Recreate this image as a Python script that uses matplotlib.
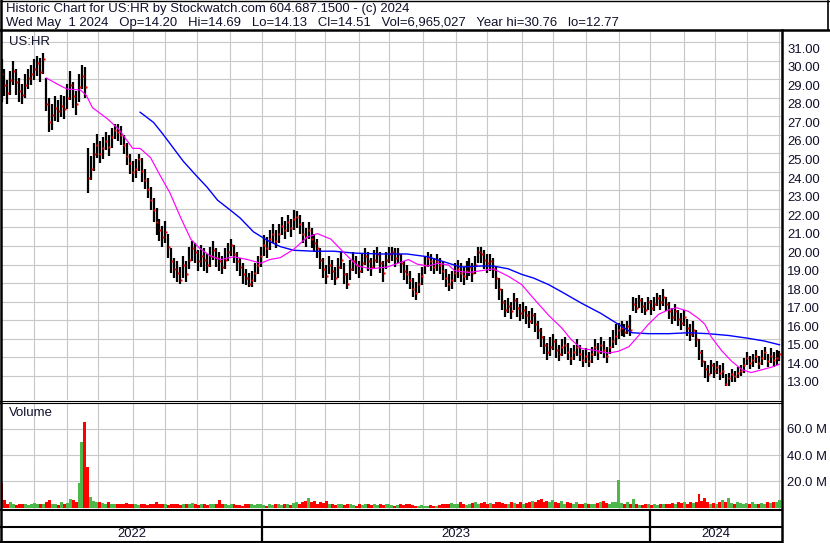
import numpy as np
import pandas as pd
import matplotlib
matplotlib.use('Agg')
import matplotlib.pyplot as plt

plt.rcParams['font.family'] = ['Liberation Sans', 'DejaVu Sans']

W, H, DPI = 830, 543, 100

# ---------------- data ----------------
sessions = pd.bdate_range('2022-05-02', '2024-05-01')
bar_dates = sessions[::2]

close = [29.6, 29.0, 28.6, 29.3, 29.8, 29.2, 28.7, 28.5, 29.0, 29.4, 29.6, 29.9, 30.2, 29.7, 30.4,
         28.0, 27.0, 27.4, 27.8,
         27.6, 27.9, 27.7, 28.3, 29.0, 28.4, 28.0, 28.9, 29.5, 28.9,
         24.0,
         24.5, 25.3, 25.8, 25.3,
         25.6, 26.0, 25.7, 26.2, 26.6, 26.5, 26.3,
         25.8, 25.2, 24.8, 24.3, 24.5, 25.0, 24.4,
         23.9, 23.4, 22.8, 22.3, 21.6,
         21.2, 20.8, 21.1, 20.3, 19.5, 19.1,
         18.9, 18.5, 19.3, 18.8,
         19.6, 20.2, 20.0, 19.5, 19.8,
         19.6, 19.3, 19.8, 20.1, 19.7, 19.5, 19.2, 19.6, 20.0, 20.4, 19.9, 19.5,
         19.2, 18.8, 18.6, 18.3, 18.5, 18.9,
         19.3, 19.8, 20.4, 20.2, 20.7, 21.0, 20.6,
         21.0, 21.4, 21.2, 21.6, 21.3, 21.8,
         21.9, 21.5, 21.0, 20.8, 21.2, 20.7, 20.5,
         20.2, 19.6, 19.1, 18.7, 19.3, 19.0, 18.6,
         19.2, 19.6, 18.8, 18.3, 19.1, 19.5,
         19.3, 19.0, 19.4, 19.8, 19.5, 19.2,
         19.6, 19.9, 19.4, 18.9, 19.6, 19.9,
         20.0, 19.7, 19.9, 19.4, 19.0,
         18.8, 18.5, 18.0, 17.8, 18.3,
         18.7, 19.3, 19.7, 19.5, 19.2, 19.5, 19.3,
         19.0, 18.6, 18.3, 18.5, 18.9, 19.1,
         18.9, 18.7, 19.0, 19.2, 18.9,
         19.3, 20.0, 19.9, 19.6, 19.4,
         19.5, 19.1, 18.6, 18.0, 17.3,
         16.9, 17.1, 16.8, 17.4, 17.0, 16.7,
         16.9, 16.6, 16.3, 16.6, 16.1,
         15.8, 15.4, 15.0, 14.6, 14.9,
         15.2, 14.7, 14.5, 14.9, 15.0, 14.6,
         14.3, 14.6, 14.9, 14.5, 14.2, 14.4, 14.1,
         14.5, 14.9, 14.6, 15.0, 14.7, 14.4,
         14.9, 15.2, 15.5, 15.8,
         15.9, 15.7, 16.0, 15.8,
         17.2, 17.0, 17.4, 17.1, 16.9, 17.3, 17.0, 17.2, 17.5, 17.3,
         17.6,
         17.2, 16.8, 16.5, 16.8, 16.4,
         16.2, 16.5, 15.9, 15.6, 15.8,
         15.3, 14.6, 14.1,
         13.7, 13.4, 13.9, 13.6, 13.8, 13.5,
         13.6, 12.9, 13.2, 13.4, 13.3, 13.5,
         13.6, 13.9, 14.3, 14.0, 14.2,
         14.4, 14.0, 14.3, 14.6, 14.1, 14.4, 14.2, 14.3, 14.51]

high = [30.4, 29.9, 29.3, 29.8, 30.3, 29.9, 29.4, 29.1, 29.6, 29.9, 30.1, 30.4, 30.6, 30.5, 30.76,
        29.4, 28.3, 28.0, 28.4,
        28.2, 28.5, 28.4, 29.1, 29.8, 29.2, 28.7, 29.6, 30.1, 30.0,
        25.6,
        25.2, 25.9, 26.4, 26.0,
        26.2, 26.5, 26.3, 26.7, 26.9, 26.9, 26.8,
        26.3, 25.9, 25.3, 24.9, 25.0, 25.3, 25.1,
        24.5, 24.0, 23.5, 22.9, 22.4,
        21.8, 21.4, 21.7, 21.0, 20.2, 19.7,
        19.5, 19.2, 19.8, 19.5,
        20.3, 20.6, 20.5, 20.1, 20.4,
        20.2, 19.9, 20.3, 20.6, 20.2, 20.0, 19.8, 20.2, 20.5, 20.7, 20.4, 20.0,
        19.7, 19.4, 19.1, 18.9, 19.0, 19.4,
        19.8, 20.3, 20.9, 20.8, 21.2, 21.5, 21.2,
        21.5, 21.9, 21.7, 22.0, 21.8, 22.3,
        22.2, 22.0, 21.6, 21.3, 21.6, 21.3, 21.0,
        20.7, 20.2, 19.7, 19.3, 19.8, 19.6, 19.2,
        19.7, 20.0, 19.4, 18.9, 19.6, 20.0,
        19.8, 19.5, 19.9, 20.2, 20.0, 19.7,
        20.1, 20.3, 20.0, 19.5, 20.0, 20.3,
        20.3, 20.2, 20.2, 19.9, 19.5,
        19.3, 19.0, 18.6, 18.4, 18.9,
        19.2, 19.8, 20.0, 19.9, 19.7, 19.9, 19.7,
        19.5, 19.1, 18.8, 19.0, 19.4, 19.6,
        19.4, 19.2, 19.5, 19.7, 19.4,
        19.8, 20.3, 20.3, 20.1, 19.9,
        19.9, 19.7, 19.2, 18.6, 18.0,
        17.4, 17.5, 17.3, 17.8, 17.5, 17.2,
        17.3, 17.1, 16.8, 17.0, 16.7,
        16.3, 15.9, 15.5, 15.1, 15.4,
        15.6, 15.3, 15.0, 15.3, 15.4, 15.1,
        14.8, 15.0, 15.3, 15.0, 14.7, 14.8, 14.6,
        14.9, 15.3, 15.1, 15.4, 15.2, 14.9,
        15.4, 15.8, 16.1, 16.2,
        16.3, 16.1, 16.3, 16.6,
        17.6, 17.5, 17.7, 17.5, 17.3, 17.6, 17.4, 17.6, 17.8, 17.7,
        18.0,
        17.6, 17.3, 17.0, 17.2, 16.9,
        16.7, 16.9, 16.4, 16.1, 16.3,
        15.8, 15.3, 14.7,
        14.1, 13.9, 14.2, 14.0, 14.1, 13.9,
        14.0, 13.4, 13.5, 13.7, 13.6, 13.8,
        13.9, 14.3, 14.6, 14.4, 14.5,
        14.7, 14.4, 14.7, 14.9, 14.5, 14.8, 14.6, 14.7, 14.69]

low = [28.1, 28.4, 28.0, 28.5, 29.0, 28.5, 28.1, 28.0, 28.3, 28.8, 29.0, 29.3, 29.5, 29.2, 29.6,
       27.6, 26.5, 26.6, 27.1,
       27.0, 27.3, 27.2, 27.7, 28.2, 27.8, 27.4, 28.1, 28.8, 28.3,
       23.2,
       23.9, 24.4, 25.1, 24.8,
       25.0, 25.5, 25.2, 25.6, 26.1, 26.0, 25.8,
       25.3, 24.7, 24.2, 23.8, 24.0, 24.4, 23.8,
       23.4, 22.9, 22.3, 21.6, 20.9,
       20.6, 20.3, 20.5, 19.7, 18.9, 18.6,
       18.4, 18.3, 18.6, 18.4,
       19.1, 19.5, 19.4, 19.0, 19.2,
       19.0, 18.9, 19.2, 19.6, 19.2, 19.0, 18.8, 19.1, 19.5, 19.8, 19.4, 19.0,
       18.7, 18.3, 18.2, 18.1, 18.1, 18.4,
       18.8, 19.2, 19.8, 19.7, 20.1, 20.5, 20.2,
       20.5, 20.9, 20.7, 21.1, 20.8, 21.2,
       21.3, 21.0, 20.5, 20.3, 20.7, 20.2, 20.0,
       19.7, 19.1, 18.6, 18.3, 18.8, 18.5, 18.2,
       18.6, 19.1, 18.3, 18.0, 18.5, 19.0,
       18.8, 18.6, 18.9, 19.3, 19.0, 18.7,
       19.1, 19.4, 18.9, 18.4, 19.1, 19.4,
       19.5, 19.2, 19.4, 18.9, 18.5,
       18.3, 18.0, 17.6, 17.4, 17.8,
       18.2, 18.8, 19.2, 19.0, 18.8, 19.0, 18.8,
       18.5, 18.1, 17.9, 18.0, 18.4, 18.6,
       18.4, 18.2, 18.5, 18.7, 18.4,
       18.8, 19.4, 19.4, 19.1, 18.9,
       19.0, 18.6, 18.0, 17.4, 16.9,
       16.5, 16.7, 16.4, 16.9, 16.5, 16.3,
       16.4, 16.1, 15.9, 16.1, 15.7,
       15.3, 14.9, 14.5, 14.2, 14.4,
       14.7, 14.3, 14.1, 14.4, 14.5, 14.2,
       13.9, 14.2, 14.4, 14.1, 13.8, 14.0, 13.8,
       14.0, 14.4, 14.2, 14.5, 14.3, 14.0,
       14.5, 14.8, 15.0, 15.3,
       15.5, 15.4, 15.6, 15.5,
       16.8, 16.7, 17.0, 16.7, 16.6, 16.9, 16.6, 16.8, 17.1, 16.9,
       17.1,
       16.8, 16.4, 16.1, 16.3, 16.0,
       15.8, 16.0, 15.5, 15.2, 15.4,
       14.9, 14.2, 13.8,
       13.2, 13.0, 13.4, 13.2, 13.4, 13.1,
       13.2, 12.77, 12.8, 13.0, 13.0, 13.2,
       13.3, 13.5, 13.9, 13.7, 13.8,
       14.0, 13.7, 13.9, 14.2, 13.8, 14.0, 13.8, 13.9, 14.13]

volume_m = [18.7, 6, 3, 4.5, 2.5, 2, 2.5, 3, 2.5, 2,
            3, 3.5, 2.5, 3, 2.5, 4, 6, 3, 2.5, 2,
            4, 3, 3.5, 6.6, 5.5, 4, 18.6, 50, 65, 30.7,
            8, 5, 4.5, 4, 3.5, 3, 4.5, 3, 2.5, 3,
            2.5, 3, 3.5, 2.5, 3, 2.5, 2, 3, 2.5, 2,
            3, 2.5, 4, 3, 2.5, 3, 2, 2.5, 3, 2.5,
            2, 3, 2.5, 3, 3.5, 2.5, 2, 3, 2.5, 2,
            2.5, 3, 2.5, 5.5, 3, 2.5, 2, 2.5, 3, 2,
            2, 1.5, 2.5, 3, 2.5, 2, 3, 2.5, 2, 1.5,
            2.5, 2, 3, 2.5, 2, 3, 2.5, 2, 3.5, 4,
            3, 4.5, 5, 7, 4, 5, 3, 4, 3.5, 5,
            3, 2.5, 2, 3, 2.5, 2, 3, 2.5, 2, 1.5,
            2.5, 2, 3, 2.5, 2, 3, 2, 2.5, 2, 3,
            2.5, 2, 1.5, 2, 2.5, 2, 3, 2.5, 2, 1.5,
            1.5, 2, 1.5, 1.5, 2, 1.5, 1.5, 2, 2.5, 3,
            2.5, 3.5, 3, 2.5, 4.5, 2.5, 2, 3, 3.5, 4,
            3, 3.5, 4, 3, 3.5, 3, 4, 4.5, 3.5, 3,
            2.5, 4, 3.5, 3, 4.5, 3, 3.5, 4, 5, 4,
            5.5, 6.5, 4.5, 5, 4, 5.5, 4, 3.5, 5, 3,
            4, 3.5, 3, 4, 2.5, 3, 3.5, 2.5, 3, 2.5,
            3.5, 4, 5, 3.5, 3, 4, 4.5, 21, 3.5, 3,
            4, 3, 6.5, 2.5, 2, 2, 2.5, 3, 2, 2.5,
            2, 3, 2.5, 3, 2.5, 3.5, 3, 4, 3.5, 4,
            3, 4.5, 3.5, 4, 10.3, 5, 7, 4, 3, 3.5,
            3, 4, 5.5, 4, 7, 3.5, 3, 4, 3.5, 3,
            3.5, 3, 4, 3, 2.5, 3.5, 3, 4, 3.5, 4, 4.5, 6]

# moving averages, read at sampled sessions (session index, value)
ma_fast_idx = [30, 39, 44, 53, 57, 61, 71, 79, 88, 93, 100, 106, 113, 120, 127, 133, 140, 147,
               156, 165, 174, 180, 187, 196, 205, 212, 221, 230, 239, 248, 259, 266, 273, 279,
               286, 293, 300, 304, 313, 322, 330, 340, 349, 357, 367, 376, 382, 389, 398, 407,
               414, 421, 427, 434, 441, 448, 453, 461, 468, 472, 476, 483, 490, 497, 503, 510, 517, 522]
ma_fast = [29.4, 29.0, 28.8, 28.75, 28.45, 27.8, 27.2, 26.6, 25.6, 25.6, 25.1, 24.2, 23.2, 21.9,
           20.7, 20.2, 19.8, 19.6, 19.75, 19.6, 19.4, 19.6, 19.7, 20.15, 20.8, 21.0, 20.7, 19.95,
           19.25, 19.1, 19.2, 19.4, 19.6, 19.35, 19.25, 19.4, 19.3, 19.0, 18.9, 19.0, 19.1, 18.7,
           18.25, 17.5, 16.6, 15.9, 15.3, 14.8, 14.7, 14.55, 14.65, 14.9, 15.45, 16.1, 16.65,
           16.9, 17.0, 16.8, 16.4, 16.1, 15.45, 14.7, 14.1, 13.65, 13.5, 13.65, 13.8, 13.95]

ma_slow_idx = [93, 102, 108, 115, 122, 131, 138, 145, 153, 160, 169, 178, 187, 196, 209, 223,
               236, 254, 272, 286, 300, 308, 322, 330, 340, 349, 357, 367, 376, 389, 402, 414,
               423, 434, 448, 461, 474, 488, 501, 512, 522]
ma_slow = [27.55, 27.0, 26.4, 25.65, 24.9, 24.1, 23.5, 22.8, 22.3, 21.85, 21.1, 20.65, 20.3,
           20.1, 20.05, 20.05, 19.95, 19.9, 19.9, 19.75, 19.4, 19.2, 19.25, 19.25, 19.1, 18.8,
           18.6, 18.25, 17.85, 17.25, 16.7, 16.1, 15.65, 15.6, 15.6, 15.65, 15.6, 15.5, 15.35,
           15.2, 15.0]

price_ticks = list(range(13, 32))
vol_ticks = [20, 40, 60]

header1 = "Historic Chart for US:HR by Stockwatch.com 604.687.1500 - (c) 2024"
header2 = ("Wed May  1 2024   Op=14.20   Hi=14.69   Lo=14.13   Cl=14.51   "
           "Vol=6,965,027   Year hi=30.76   lo=12.77")
symbol = "US:HR"

# ---------------- layout helpers ----------------
def rect(x0, y0, x1, y1):
    return [x0 / W, 1 - y1 / H, (x1 - x0) / W, (y1 - y0) / H]

PX_PER_DAY = 1.4904
ORIGIN = 1.5
AX_L, AX_R = 1.0, 781.0
xlim = ((AX_L - ORIGIN) / PX_PER_DAY, (AX_R - ORIGIN) / PX_PER_DAY)

TXT = '#10102a'
GRID = '#c8c8c8'
FS = 9.45

fig = plt.figure(figsize=(W / DPI, H / DPI), dpi=DPI)
fig.patch.set_facecolor('white')

bar_x = sessions.get_indexer(bar_dates)
close_a = np.array(close)
month_starts = [i for i in range(1, len(sessions)) if sessions[i].month != sessions[i - 1].month]
year_starts = [i for i in range(1, len(sessions)) if sessions[i].year != sessions[i - 1].year]

# ---------------- price panel ----------------
PY0, PY1 = 32.0, 400.0
ax_p = fig.add_axes(rect(AX_L, PY0, AX_R, PY1))
px_per_dollar = 18.53
v_top = 31 + (48.3 - PY0) / px_per_dollar
v_bot = 31 - (PY1 - 48.3) / px_per_dollar
ax_p.set_xlim(*xlim)
ax_p.set_ylim(v_bot, v_top)
for m in month_starts:
    ax_p.axvline(m, color=GRID, lw=0.8, zorder=0)
for v in price_ticks:
    ax_p.axhline(v + 0.33, color=GRID, lw=0.8, zorder=0)
ax_p.vlines(bar_x, low, high, color='black', lw=1.6, zorder=2)
ax_p.plot(bar_x + 0.4, close, linestyle='none', marker='s', ms=1.7, mec='none', mfc='#ff0000', zorder=3)
ax_p.plot(ma_slow_idx, ma_slow, color='#0000ff', lw=1.0, zorder=4)
ax_p.plot(ma_fast_idx, ma_fast, color='#ff00ff', lw=0.85, zorder=4)
ax_p.yaxis.tick_right()
ax_p.set_yticks(price_ticks)
ax_p.set_yticklabels([f"{v:.2f}" for v in price_ticks], fontsize=FS, color=TXT)
ax_p.tick_params(axis='y', length=0, pad=4.5)
ax_p.set_xticks([])
for s in ax_p.spines.values():
    s.set_visible(False)

# ---------------- volume panel ----------------
VY0, VY1 = 403.8, 509.3
ax_v = fig.add_axes(rect(AX_L, VY0, AX_R, VY1))
px_per_20m = 26.35
base_y = 507.7
ax_v.set_xlim(*xlim)
ax_v.set_ylim(-(VY1 - base_y) / px_per_20m * 20, (base_y - VY0) / px_per_20m * 20)
for m in month_starts:
    ax_v.axvline(m, color=GRID, lw=0.8, zorder=0)
for v in vol_ticks:
    ax_v.axhline(v, color=GRID, lw=0.8, zorder=0)
prev = np.concatenate([[close_a[0]], close_a[:-1]])
vcol = np.where(close_a > prev, '#4cb84c', '#ff0000')
ax_v.bar(bar_x, volume_m, width=2.0, bottom=0, color=vcol, linewidth=0, zorder=2)
ax_v.yaxis.tick_right()
ax_v.set_yticks(vol_ticks)
ax_v.set_yticklabels([f"{v:.1f} M" for v in vol_ticks], fontsize=FS, color=TXT)
ax_v.tick_params(axis='y', length=0, pad=4.5)
ax_v.set_xticks([])
for s in ax_v.spines.values():
    s.set_visible(False)

# ---------------- year strip ----------------
ax_y = fig.add_axes(rect(AX_L, 509.3, AX_R, 541.7))
ax_y.set_xlim(*xlim)
ax_y.set_ylim(1, 0)
ax_y.axis('off')
bounds = [xlim[0]] + year_starts + [xlim[1]]
for ys in year_starts:
    ax_y.axvline(ys, color='black', lw=1.6)
for k in range(len(bounds) - 1):
    yr = sessions[min(max(int(bounds[k]) + 1, 0), len(sessions) - 1)].year
    ax_y.text((bounds[k] + bounds[k + 1]) / 2, 0.77, str(yr), ha='center', va='center',
              fontsize=FS, color=TXT)

# ---------------- frame and header ----------------
ax_o = fig.add_axes([0, 0, 1, 1])
ax_o.set_xlim(0, W)
ax_o.set_ylim(H, 0)
ax_o.axis('off')
ax_o.patch.set_alpha(0)
k = 'black'
ax_o.plot([0.5, 828.5], [0.8, 0.8], color=k, lw=1.0)
ax_o.plot([828.3, 828.3], [0.5, 30], color=k, lw=1.2)
ax_o.plot([0, 829], [30.2, 30.2], color=k, lw=1.8)
ax_o.plot([1, 1], [0, 542], color=k, lw=1.8)
ax_o.plot([782.2, 782.2], [30, 542], color=k, lw=1.8)
ax_o.plot([0, 782], [400.7, 400.7], color=k, lw=0.8)
ax_o.plot([0, 782], [403.3, 403.3], color=k, lw=0.8)
ax_o.plot([0, 782], [509.6, 509.6], color=k, lw=1.5)
ax_o.plot([0, 782], [526.7, 526.7], color=k, lw=1.5)
ax_o.plot([0, 782], [541.6, 541.6], color=k, lw=1.5)
ax_o.text(6.3, 8.7, header1, fontsize=FS, color=TXT, ha='left', va='center')
ax_o.text(5.8, 23.3, header2, fontsize=FS, color=TXT, ha='left', va='center')
ax_o.text(9, 41.7, symbol, fontsize=FS, color=TXT, ha='left', va='center')
ax_o.text(9, 413, "Volume", fontsize=FS, color=TXT, ha='left', va='center')

fig.savefig('out.png', dpi=DPI, facecolor='white')
